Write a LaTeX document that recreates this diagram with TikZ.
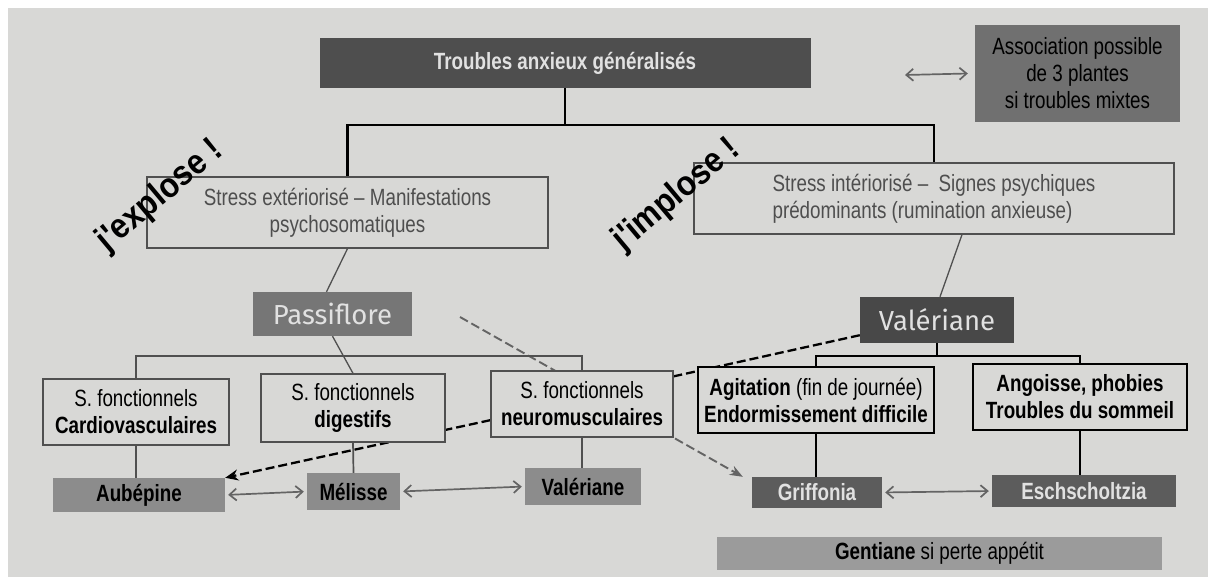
\documentclass[tikz,border=0pt]{standalone}
\usepackage{fontspec}
\setmainfont{Liberation Sans}[FakeStretch=0.8]
\newfontfamily\humfont{Fira Sans}
\newfontfamily\shoutfont{Liberation Sans}[FakeStretch=0.9]
\usepackage{tikz}
\usetikzlibrary{arrows.meta,calc}

\definecolor{paper}{RGB}{216,216,214}
\definecolor{titlegrey}{RGB}{78,78,78}
\definecolor{assocgrey}{RGB}{112,112,112}
\definecolor{passigrey}{RGB}{118,118,118}
\definecolor{valgrey}{RGB}{72,72,72}
\definecolor{plantgrey}{RGB}{140,140,140}
\definecolor{griffgrey}{RGB}{92,92,92}
\definecolor{gentgrey}{RGB}{155,155,155}
\definecolor{framegrey}{RGB}{80,80,80}
\definecolor{stressgrey}{RGB}{78,78,78}
\definecolor{lighttext}{RGB}{225,225,225}
\definecolor{arrowgrey}{RGB}{100,100,100}

\newcommand{\mainsize}{\fontsize{23.5}{27}\selectfont}

\pgfdeclarelayer{bg}
\pgfsetlayers{bg,main}

\tikzset{
  txt/.style={font=\mainsize, align=center, inner sep=0pt},
  boxsize/.style 2 args={minimum width=#1pt, minimum height=#2pt},
  darkbox/.style={txt, fill=titlegrey, text=lighttext, font=\mainsize\bfseries},
  assocbox/.style={txt, fill=assocgrey, text=black},
  framebox/.style={txt, draw=framegrey, line width=1.3pt, fill=paper},
  blackbox/.style={txt, draw=black, line width=2pt, fill=paper},
  herbbox/.style={txt, text=lighttext, font=\humfont\fontsize{27.5}{30}\selectfont},
  plantbox/.style={txt, fill=plantgrey, text=black, font=\mainsize\bfseries},
  griffbox/.style={txt, fill=griffgrey, text=lighttext, font=\mainsize\bfseries},
  shout/.style={font=\shoutfont\fontsize{35}{38}\selectfont\bfseries, rotate=40, inner sep=0pt},
  treeline/.style={line width=2.4pt, draw=black},
  greytree/.style={line width=1.7pt, draw=framegrey},
  thinline/.style={line width=1.3pt, draw=framegrey},
  twoway/.style={{Straight Barb[length=7pt,width=12pt]}-{Straight Barb[length=7pt,width=12pt]}, line width=1.7pt, draw=arrowgrey},
  dashlink/.style={dash pattern=on 9pt off 4pt, line width=2.3pt},
}

\begin{document}
\begin{tikzpicture}[x=1pt,y=1pt,yscale=-1,xscale=1]
\useasboundingbox (0,0) rectangle (1208,577);
%Paper
\begin{pgfonlayer}{bg}
\fill[white] (0,0) rectangle (1208,577);
\fill[paper] (8,8) rectangle (1208,577);
\end{pgfonlayer}

% Top row
\node[darkbox, boxsize={491}{50}] (title) at (565,63) {Troubles anxieux généralisés};
\node[assocbox, boxsize={205}{97}] (assoc) at (1077.5,73.5) {Association possible\\de 3 plantes\\si troubles mixtes};
\coordinate (assocend) at (905,75);

% Stress boxes
\node[framebox, text=stressgrey, boxsize={401}{71}] (stressE) at (347.5,212.5) {Stress extériorisé -- Manifestations\\psychosomatiques};
\node[framebox, text=stressgrey, align=left, boxsize={480}{71}] (stressI) at (934,198.5) {Stress intériorisé --\ \ Signes psychiques\\prédominants (rumination anxieuse)};

% Plants
\node[herbbox, fill=passigrey, boxsize={159}{44}] (passi) at (332.5,314) {Passiflore};
\node[herbbox, fill=valgrey, boxsize={154}{46}] (valT) at (937,320) {Valériane};

% Symptom boxes
\node[framebox, boxsize={186}{66}] (cardio) at (136,412) {S. fonctionnels\\\textbf{Cardiovasculaires}};
\node[framebox, boxsize={184}{68}] (dig) at (353,408) {S. fonctionnels\\\textbf{digestifs}};
\node[framebox, boxsize={182}{66}] (neuro) at (582,404) {S. fonctionnels\\\textbf{neuromusculaires}};
\node[blackbox, boxsize={236}{66}] (agit) at (816,400) {\textbf{Agitation} (fin de journée)\\\textbf{Endormissement difficile}};
\node[blackbox, boxsize={214}{66}] (ango) at (1080,397) {\textbf{Angoisse, phobies}\\\textbf{Troubles du sommeil}};

% Bottom row
\node[plantbox, boxsize={172}{34}] (aub) at (139,495) {Aubépine};
\node[plantbox, boxsize={93}{37}] (mel) at (353.5,491.5) {Mélisse};
\node[plantbox, boxsize={116}{37}] (valB) at (583,486.5) {Valériane};
\node[griffbox, boxsize={130}{31}] (griff) at (817,492.5) {Griffonia};
\node[griffbox, boxsize={184}{32}] (esch) at (1084,491) {Eschscholtzia};
\node[txt, fill=gentgrey, boxsize={445}{33}] (gent) at (939.5,553.5) {\textbf{Gentiane} si perte appétit};

%Straight Lines
\draw[treeline] (title.south) -- ++(0,37) coordinate (topfork);
\draw[treeline] (topfork) -| (stressE.north);
\draw[treeline] (topfork) -| (stressI.north);
\draw[thinline] (stressE.south) -- ([xshift=-6pt]passi.north);
\draw[thinline] ([xshift=28pt]stressI.south) -- ([xshift=3pt]valT.north);
\draw[greytree] (cardio.north) -- ++(0,-22) -| (neuro.north);
\draw[thinline] (passi.south) -- (dig.north);
\draw[greytree] (cardio.south) -- (aub.north -| cardio.south);
\draw[greytree] (dig.south) -- (mel.north);
\draw[greytree] (neuro.south) -- (valB.north -| neuro.south);
\draw[treeline] (valT.south) -- ++(0,13) coordinate (valfork);
\draw[treeline] (valfork) -| (agit.north);
\draw[treeline] (valfork) -| (ango.north);
\draw[treeline] (agit.south) -- (griff.north -| agit.south);
\draw[treeline] (ango.south) -- (esch.north -| ango.south);

%Double arrows
\draw[twoway] (assocend) -- ([xshift=-7pt]assoc.west);
\draw[twoway, shorten <=3pt, shorten >=3pt] (aub.east) -- (mel.west);
\draw[twoway, shorten <=3pt, shorten >=3pt] (mel.east) -- (valB.west);
\draw[twoway, shorten <=3pt, shorten >=3pt] (griff.east) -- (esch.west);

%Dashed links (behind the boxes)
\coordinate (dashstart) at (460,317);
\begin{pgfonlayer}{bg}
\draw[dashlink, -{Stealth[length=13pt,width=11pt]}] (neuro.190) -- (aub.north east);
\draw[dashlink, draw=arrowgrey, line width=1.9pt, -{Stealth[length=13pt,width=10pt]}] (dashstart) -- ([xshift=-9pt]griff.north west);
\draw[dashlink] ($(valT.south west)+(0,-8)$) -- ($(neuro.north east)+(0,6)$);
\end{pgfonlayer}

% Text Node
\node[shout] (explose) at (160,196) {j'explose !};
\node[shout] (implose) at (677,195) {j'implose !};
\end{tikzpicture}
\end{document}
